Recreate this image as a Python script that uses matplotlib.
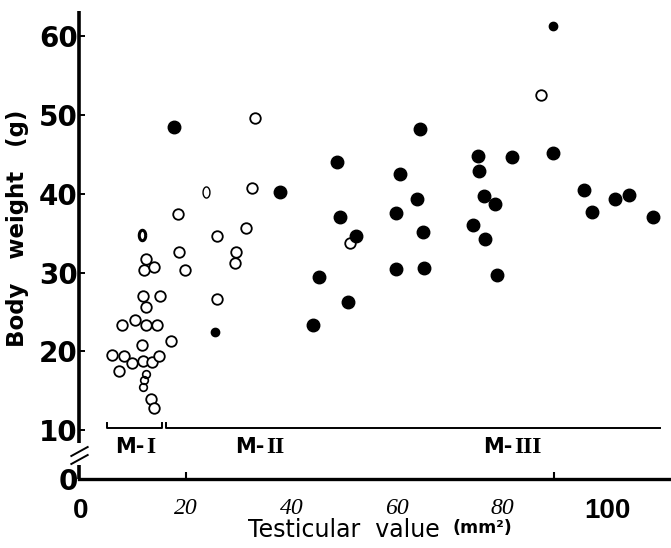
import numpy as np
import matplotlib
matplotlib.use("Agg")
import matplotlib.pyplot as plt
from matplotlib.path import Path

# open circles
open_x = [18.5, 18.6, 12.4, 12.0, 13.8, 19.8, 11.8, 15.0, 12.4, 7.8, 10.3, 12.4,
          14.4, 17.1, 11.6, 5.9, 8.2, 9.7, 11.8, 13.5, 14.9, 7.2, 13.3, 13.9,
          33.0, 32.5, 25.9, 31.3, 51.1, 29.5, 29.3, 25.9, 87.4]
open_y = [37.5, 32.6, 31.7, 30.3, 30.7, 30.3, 27.0, 27.0, 25.6, 23.3, 24.0, 23.3,
          23.3, 21.3, 20.8, 19.5, 19.4, 18.5, 18.8, 18.6, 19.4, 17.5, 13.9, 12.8,
          49.6, 40.8, 34.7, 35.6, 33.8, 32.6, 31.2, 26.7, 52.6]
# the squashed little "8" shapes
small_open_x = [12.4, 12.0, 11.8]
small_open_y = [17.1, 16.4, 15.5]
# odd oval marks
oval_x = [11.6, 23.7]
oval_y = [34.8, 40.3]

# filled circles
fill_x = [17.7, 48.7, 37.8, 49.2, 52.3, 45.2, 50.8, 44.0, 64.4, 75.4, 75.6, 60.6,
          63.9, 76.5, 78.7, 59.9, 64.9, 74.5, 76.7, 59.9, 65.2, 79.1, 89.7, 81.8,
          95.5, 101.5, 104.2, 97.1, 108.7]
fill_y = [48.5, 44.1, 40.2, 37.0, 34.6, 29.4, 26.2, 23.4, 48.3, 44.8, 42.9, 42.5,
          39.4, 39.7, 38.7, 37.6, 35.2, 36.1, 34.3, 30.4, 30.6, 29.7, 45.2, 44.7,
          40.5, 39.3, 39.8, 37.7, 37.1]
small_fill_x = [25.5, 89.7]
small_fill_y = [22.5, 61.3]

# maturity stages along the bottom
stage_numerals = ["I", "II", "III"]
stage_label_x = [12.1, 34.8, 82.0]
bracket_1 = (4.9, 15.3)
bracket_23 = (16.2, 110.0)

xtick_vals = [0, 20, 40, 60, 80, 100]
ytick_vals = [0, 10, 20, 30, 40, 50, 60]

# y axis is squeezed below 10 (broken axis)
squeeze = 0.623
def fwd(y):
    y = np.asarray(y, float)
    return np.where(y >= 10, y, 10 - (10 - y) * squeeze)
def inv(f):
    f = np.asarray(f, float)
    return np.where(f >= 10, f, 10 - (10 - f) / squeeze)

W, H = 671, 548
fig = plt.figure(figsize=(W / 100, H / 100), dpi=100)
ax = fig.add_axes([79 / W, (H - 479) / H, (W - 79) / W, (479 - 10.5) / H])
ax.set_yscale("function", functions=(fwd, inv))
xl = -0.38
ax.set_xlim(xl, 112.1)
ax.set_ylim(0, 63.3)

for s in ["top", "right", "left"]:
    ax.spines[s].set_visible(False)
ax.spines["bottom"].set_linewidth(2.4)

# y axis drawn by hand in two pieces with a break
ax.plot([xl, xl], [7.3, 63.3], color="k", lw=2.6, clip_on=False, solid_capstyle="butt")
ax.plot([xl, xl], [0, 2.9], color="k", lw=2.6, clip_on=False, solid_capstyle="butt")
slash = Path([(-1, -0.55), (1, 0.55)], [Path.MOVETO, Path.LINETO])
for yb in [5.8, 4.1]:
    ax.plot([xl], [yb], marker=slash, ms=13, mew=1.4, color="k", clip_on=False)

# points
ax.plot(open_x, open_y, "o", ms=7.6, mfc="white", mec="k", mew=1.3, ls="none")
ax.plot(small_open_x, small_open_y, "o", ms=5.5, mfc="none", mec="k", mew=1.2, ls="none")
oval = Path([(0.62 * np.cos(t), np.sin(t)) for t in np.linspace(0, 2 * np.pi, 40)])
ax.plot(oval_x[:1], oval_y[:1], marker=oval, ms=7.5, mfc="white", mec="k", mew=2.2, ls="none")
ax.plot(oval_x[1:], oval_y[1:], marker=oval, ms=8, mfc="white", mec="k", mew=1.0, ls="none")
ax.plot(fill_x, fill_y, "o", ms=9, color="k", ls="none")
ax.plot(small_fill_x, small_fill_y, "o", ms=6, color="k", ls="none")

# stage brackets
by = 10.25
ax.plot([bracket_1[0], bracket_1[0], bracket_1[1], bracket_1[1]],
        [by + 0.6, by, by, by + 0.6], color="k", lw=1.4, clip_on=False)
ax.plot([bracket_23[0], bracket_23[0], bracket_23[1]],
        [by + 0.6, by, by], color="k", lw=1.4, clip_on=False)
for num, sx in zip(stage_numerals, stage_label_x):
    ax.text(sx, 6.5, "M-", ha="right", va="center", fontsize=15,
            fontweight="bold", family="DejaVu Sans")
    ax.text(sx + 0.3, 6.5, num, ha="left", va="center", fontsize=17,
            fontweight="bold", family="Liberation Serif")

# ticks
ax.set_yticks(ytick_vals)
ax.set_yticklabels([str(v) for v in ytick_vals])
ax.yaxis.set_minor_locator(plt.NullLocator())
ax.tick_params(axis="y", direction="in", length=4, width=1.4, pad=1)
for lab in ax.get_yticklabels():
    lab.set_fontsize(20)
    lab.set_fontweight("bold")

ax.xaxis.remove_overlapping_locs = False
ax.set_xticks(xtick_vals)
ax.set_xticklabels([str(v) for v in xtick_vals])
ax.tick_params(axis="x", which="major", length=0, pad=14)
ax.set_xticks([20, 89.8], minor=True)
ax.tick_params(axis="x", which="minor", direction="in", length=5, width=1.5)
for lab in ax.get_xticklabels():
    if lab.get_text() in ("0", "100"):
        lab.set_family("Liberation Sans")
        lab.set_fontsize(20)
        lab.set_fontweight("bold")
    else:
        lab.set_family("Liberation Serif")
        lab.set_style("italic")
        lab.set_fontsize(17)

# axis titles
fig.text(18 / W, 1 - 228 / H, "Body   weight   (g)", rotation=90, ha="center",
         va="center", fontsize=16.5, fontweight="bold")
fig.text(440 / W, 1 - 530 / H, "Testicular  value", ha="right", va="center",
         fontsize=17)
fig.text(452 / W, 1 - 528 / H, "(mm²)", ha="left", va="center",
         fontsize=12.5, fontweight="bold")

fig.savefig("out.png", dpi=100)
